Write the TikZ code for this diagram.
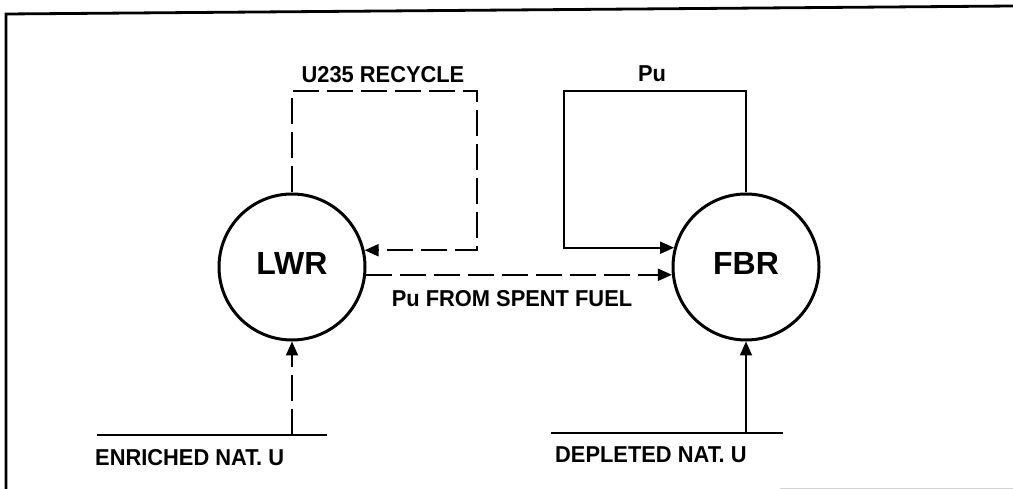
\documentclass[tikz,border=0pt]{standalone}
\usepackage{fontspec}
\setmainfont{Liberation Sans}
\newfontfamily\labelfont{Liberation Sans}[FakeStretch=0.95]
\usepackage{tikz}
\usetikzlibrary{arrows.meta}

\tikzset{
    reactor/.style={circle,draw,line width=3pt,minimum size=146pt,inner sep=0pt,
        text depth=7pt,font=\fontsize{32}{36}\selectfont\bfseries},
    flow/.style={line width=2pt,-{Triangle[length=14pt,width=12pt]}},
    brokenline/.style={dash pattern=on 26pt off 8pt},
    feedline/.style={line width=1.8pt},
    lbl/.style={inner sep=0pt,font=\labelfont\fontsize{23}{26}\selectfont\bfseries}
}

\begin{document}
\begin{tikzpicture}[x=1pt,y=-1pt]
    \useasboundingbox (0,0) rectangle (1013,489);
    \draw[line width=2.8pt] (6,489) -- (6,14) -- (1013,6);
    \draw[gray!35,line width=1pt] (780,488) -- (1013,488);

    \node[reactor] (lwr) at (292,267) {LWR};
    \node[reactor] (fbr) at (746,267) {FBR};

    \coordinate (recyc) at (477,91);
    \coordinate (puloop) at (564,91);
    \coordinate (enr) at (292,435);
    \coordinate (dep) at (746,433);

    \draw[feedline] (97,435) -- (327,435);
    \draw[feedline] (551,433) -- (783,433);

    \draw[flow,brokenline] (lwr.north) |- (recyc) |- (lwr.13);
    \draw[flow] (fbr.north) |- (puloop) |- (fbr.165);
    \draw[flow,brokenline] (lwr.-6) -- (fbr.186);
    \draw[flow,brokenline] (enr) -- (lwr.south);
    \draw[flow] (dep) -- (fbr.south);

    \node[lbl] (recyclbl) at (383,75) {U235 RECYCLE};
    \node[lbl] (pulbl) at (652,74) {Pu};
    \node[lbl] (spentlbl) at (512,299) {Pu FROM SPENT FUEL};
    \node[lbl,anchor=west] (enrlbl) at (95,458) {ENRICHED NAT. U};
    \node[lbl,anchor=west] (deplbl) at (555,455) {DEPLETED NAT. U};
\end{tikzpicture}
\end{document}
